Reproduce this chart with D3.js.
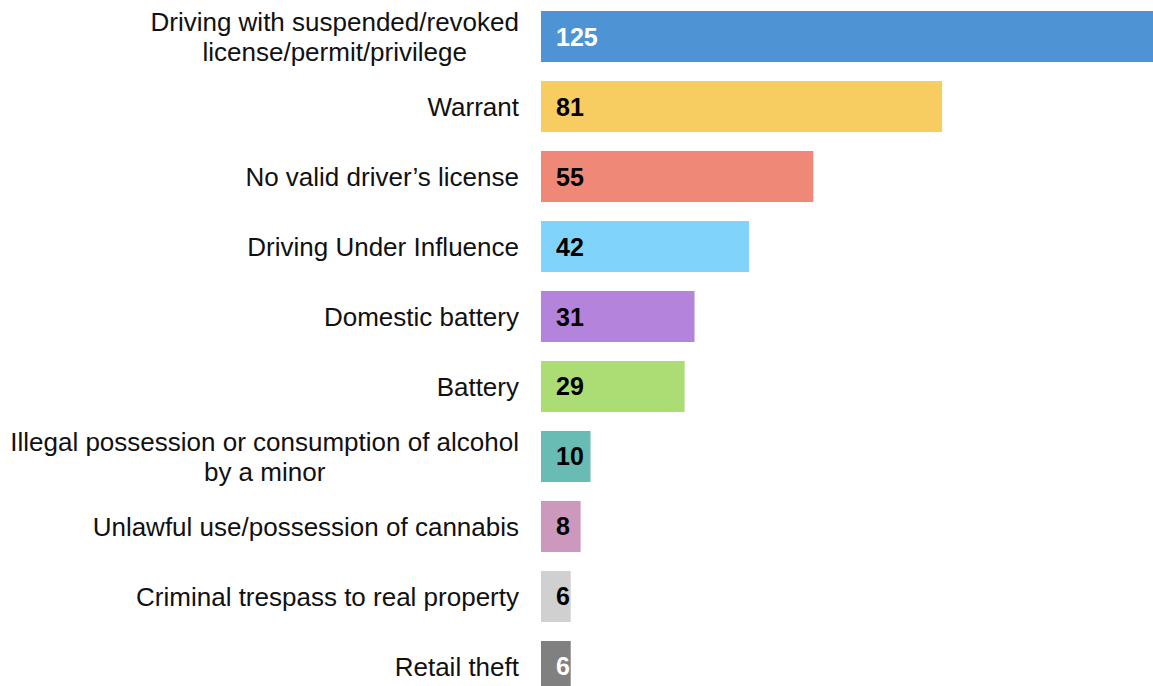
<!DOCTYPE html>
<html><head><meta charset="utf-8">
<script src="https://cdn.jsdelivr.net/npm/d3@7"></script>
<style>body{margin:0;background:#fff;overflow:hidden}svg{display:block}</style>
</head><body>
<script>
const categories = [
  ["Driving with suspended/revoked", "license/permit/privilege"],
  ["Warrant"],
  ["No valid driver’s license"],
  ["Driving Under Influence"],
  ["Domestic battery"],
  ["Battery"],
  ["Illegal possession or consumption of alcohol", "by a minor"],
  ["Unlawful use/possession of cannabis"],
  ["Criminal trespass to real property"],
  ["Retail theft"]
];
const values = [125, 81, 55, 42, 31, 29, 10, 8, 6, 6];
const colors = ["#4e94d4", "#f7cd62", "#f08878", "#80d4fc", "#b484dc", "#acdc74", "#68bcb4", "#cc98bc", "#d0d0d0", "#808080"];
const labelColors = ["#fff", "#000", "#000", "#000", "#000", "#000", "#000", "#000", "#000", "#fff"];

const W = 1153, H = 686;
const svg = d3.select("body").append("svg").attr("width", W).attr("height", H);
const idx = d3.range(values.length);
const y = d3.scaleBand().domain(idx).range([11, 692]).paddingInner(0.271).paddingOuter(0);
const x = d3.scaleLinear().domain([0, 125]).range([541, 1160]);

const font = "'Liberation Sans', Arial, sans-serif";

svg.selectAll("rect.bar").data(idx).join("rect")
  .attr("class", "bar")
  .attr("x", x(0))
  .attr("y", i => y(i))
  .attr("width", i => x(values[i]) - x(0))
  .attr("height", y.bandwidth())
  .attr("fill", i => colors[i]);

svg.selectAll("text.val").data(idx).join("text")
  .attr("class", "val")
  .attr("x", x(0) + 15)
  .attr("y", i => y(i) + y.bandwidth() / 2)
  .attr("dy", "0.36em")
  .attr("font-family", font)
  .attr("font-size", 25)
  .attr("font-weight", "bold")
  .attr("fill", i => labelColors[i])
  .text(i => values[i]);

const cat = svg.selectAll("text.cat").data(idx).join("text")
  .attr("class", "cat")
  .attr("font-family", font)
  .attr("font-size", 26)
  .attr("fill", "#111");
cat.each(function(i) {
  const lines = categories[i];
  const cy = y(i) + y.bandwidth() / 2;
  const lh = 30;
  const t = d3.select(this);
  lines.forEach((ln, k) => {
    t.append("tspan")
      .attr("x", 519)
      .attr("y", cy + (k - (lines.length - 1) / 2) * lh)
      .attr("dy", "0.36em")
      .attr("text-anchor", lines.length > 1 ? "middle" : "end")
      .text(ln);
  });
});
cat.each(function(i) {
  if (categories[i].length < 2) return;
  const t = d3.select(this);
  const tsp = t.selectAll("tspan");
  let maxW = 0;
  tsp.each(function() { maxW = Math.max(maxW, this.getComputedTextLength()); });
  tsp.attr("x", 519 - maxW / 2);
});
</script>
</body></html>
